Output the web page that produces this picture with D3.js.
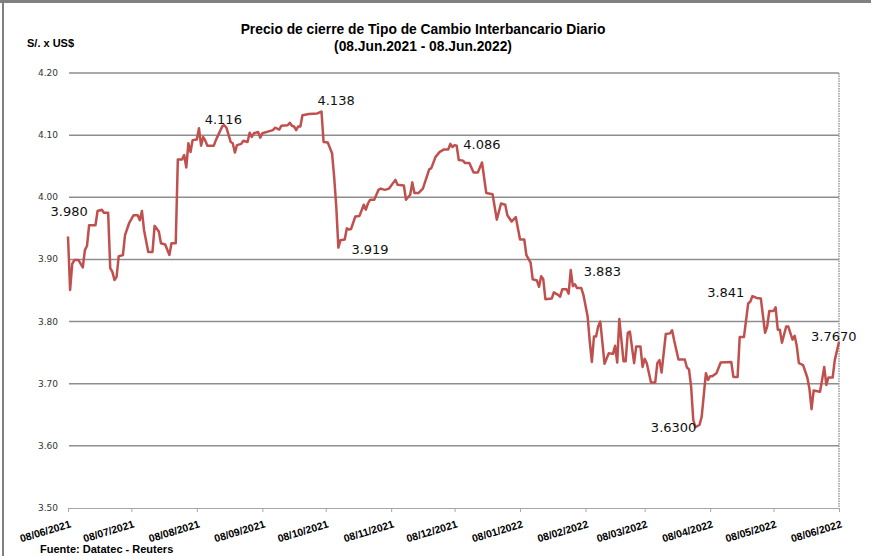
<!DOCTYPE html>
<html>
<head>
<meta charset="utf-8">
<script src="https://cdn.jsdelivr.net/npm/d3@7"></script>
<style>
  body { margin: 0; background: #fff; }
  svg { display: block; }
</style>
</head>
<body>
<div id="chart"></div>
<script>

// data

const DATES = [
  "2021-06-08","2021-06-09","2021-06-10","2021-06-11","2021-06-13","2021-06-15","2021-06-16","2021-06-17","2021-06-18","2021-06-21",
  "2021-06-22","2021-06-24","2021-06-25","2021-06-27","2021-06-28","2021-06-29","2021-06-30","2021-07-01","2021-07-02","2021-07-04",
  "2021-07-05","2021-07-07","2021-07-09","2021-07-11","2021-07-12","2021-07-13","2021-07-14","2021-07-16","2021-07-18","2021-07-19",
  "2021-07-21","2021-07-22","2021-07-24","2021-07-26","2021-07-27","2021-07-29","2021-07-30","2021-08-01","2021-08-02","2021-08-03",
  "2021-08-04","2021-08-05","2021-08-06","2021-08-08","2021-08-09","2021-08-10","2021-08-11","2021-08-12","2021-08-13","2021-08-16",
  "2021-08-17","2021-08-20","2021-08-21","2021-08-22","2021-08-24","2021-08-25","2021-08-26","2021-08-27","2021-08-29","2021-08-30",
  "2021-09-01","2021-09-02","2021-09-03","2021-09-04","2021-09-06","2021-09-07","2021-09-08","2021-09-11","2021-09-13","2021-09-14",
  "2021-09-16","2021-09-17","2021-09-20","2021-09-21","2021-09-22","2021-09-23","2021-09-24","2021-09-25","2021-09-26","2021-09-27",
  "2021-09-30","2021-10-04","2021-10-06","2021-10-07","2021-10-09","2021-10-11","2021-10-12","2021-10-13","2021-10-14","2021-10-15",
  "2021-10-17","2021-10-18","2021-10-19","2021-10-20","2021-10-22","2021-10-24","2021-10-26","2021-10-27","2021-10-28","2021-10-29",
  "2021-10-31","2021-11-02","2021-11-03","2021-11-05","2021-11-07","2021-11-10","2021-11-11","2021-11-14","2021-11-15","2021-11-17",
  "2021-11-18","2021-11-19","2021-11-21","2021-11-23","2021-11-26","2021-11-27","2021-11-29","2021-12-01","2021-12-03","2021-12-05",
  "2021-12-06","2021-12-07","2021-12-08","2021-12-09","2021-12-10","2021-12-12","2021-12-13","2021-12-15","2021-12-17","2021-12-19",
  "2021-12-21","2021-12-23","2021-12-26","2021-12-28","2021-12-30","2022-01-01","2022-01-02","2022-01-04","2022-01-06","2022-01-08",
  "2022-01-10","2022-01-11","2022-01-13","2022-01-14","2022-01-16","2022-01-17","2022-01-18","2022-01-19","2022-01-20","2022-01-23",
  "2022-01-24","2022-01-26","2022-01-27","2022-01-28","2022-01-30","2022-01-31","2022-02-01","2022-02-02","2022-02-03","2022-02-04",
  "2022-02-06","2022-02-07","2022-02-09","2022-02-10","2022-02-11","2022-02-12","2022-02-13","2022-02-14","2022-02-15","2022-02-17",
  "2022-02-19","2022-02-21","2022-02-22","2022-02-23","2022-02-24","2022-02-26","2022-02-27","2022-02-28","2022-03-01","2022-03-03",
  "2022-03-04","2022-03-06","2022-03-07","2022-03-08","2022-03-09","2022-03-11","2022-03-13","2022-03-14","2022-03-15","2022-03-16",
  "2022-03-18","2022-03-20","2022-03-21","2022-03-22","2022-03-24","2022-03-27","2022-03-28","2022-03-29","2022-03-30","2022-03-31",
  "2022-04-01","2022-04-03","2022-04-04","2022-04-06","2022-04-07","2022-04-08","2022-04-09","2022-04-11","2022-04-13","2022-04-18",
  "2022-04-19","2022-04-21","2022-04-22","2022-04-24","2022-04-26","2022-04-27","2022-04-28","2022-04-30","2022-05-02","2022-05-04",
  "2022-05-05","2022-05-06","2022-05-08","2022-05-09","2022-05-10","2022-05-11","2022-05-12","2022-05-14","2022-05-15","2022-05-17",
  "2022-05-18","2022-05-19","2022-05-20","2022-05-22","2022-05-24","2022-05-25","2022-05-26","2022-05-27","2022-05-30","2022-05-31",
  "2022-06-01","2022-06-02","2022-06-03","2022-06-05","2022-06-06","2022-06-08"
];

const RATES = [
  3.937,3.851,3.893,3.899,3.899,3.887,3.915,3.922,3.955,3.955,
  3.978,3.980,3.975,3.975,3.886,3.880,3.867,3.872,3.905,3.907,
  3.939,3.959,3.971,3.971,3.963,3.978,3.947,3.912,3.912,3.954,
  3.945,3.926,3.924,3.907,3.926,3.926,4.061,4.061,4.068,4.048,
  4.087,4.073,4.092,4.093,4.111,4.083,4.097,4.091,4.083,4.083,
  4.092,4.114,4.116,4.112,4.089,4.087,4.072,4.084,4.086,4.091,
  4.089,4.104,4.097,4.103,4.105,4.096,4.103,4.106,4.108,4.112,
  4.109,4.115,4.116,4.120,4.115,4.114,4.108,4.114,4.114,4.132,
  4.134,4.135,4.138,4.089,4.088,4.071,4.033,3.985,3.919,3.931,
  3.932,3.950,3.948,3.949,3.969,3.970,3.988,3.980,3.990,3.996,
  3.996,4.012,4.014,4.012,4.014,4.028,4.020,4.019,3.996,4.004,
  4.024,4.007,4.007,4.014,4.045,4.047,4.065,4.073,4.077,4.077,
  4.086,4.081,4.084,4.083,4.060,4.059,4.055,4.055,4.040,4.040,
  4.056,4.007,4.005,3.964,3.990,3.988,3.971,3.961,3.968,3.932,
  3.932,3.907,3.895,3.868,3.866,3.856,3.873,3.868,3.836,3.837,
  3.847,3.843,3.840,3.852,3.852,3.845,3.883,3.857,3.860,3.854,
  3.854,3.843,3.808,3.768,3.735,3.776,3.776,3.792,3.800,3.732,
  3.749,3.748,3.761,3.734,3.804,3.736,3.736,3.782,3.784,3.733,
  3.760,3.760,3.727,3.740,3.733,3.702,3.702,3.733,3.738,3.718,
  3.780,3.781,3.786,3.769,3.739,3.739,3.726,3.723,3.695,3.642,
  3.630,3.634,3.647,3.717,3.706,3.712,3.712,3.717,3.734,3.735,
  3.711,3.711,3.775,3.775,3.829,3.832,3.841,3.838,3.837,3.782,
  3.792,3.817,3.817,3.823,3.787,3.787,3.766,3.792,3.792,3.771,
  3.777,3.761,3.733,3.730,3.710,3.692,3.659,3.689,3.687,3.706,
  3.727,3.698,3.710,3.710,3.738,3.767
];

const Y_TICKS = [3.50, 3.60, 3.70, 3.80, 3.90, 4.00, 4.10, 4.20];
const X_TICKS = ["2021-06-08","2021-07-08","2021-08-08","2021-09-08","2021-10-08","2021-11-08",
                 "2021-12-08","2022-01-08","2022-02-08","2022-03-08","2022-04-08","2022-05-08","2022-06-08"];

// value labels written on the line
const LABEL_DATES = ["2021-06-24","2021-08-21","2021-10-06","2021-10-14","2021-12-06",
                     "2022-02-01","2022-04-28","2022-04-01","2022-06-08"];
const LABEL_TEXT = ["3.980","4.116","4.138","3.919","4.086","3.883","3.841","3.6300","3.7670"];

// where each label sits relative to its point
const LABEL_POS = [
  {dx: -14, dy: 6, anchor: "end"},
  {dx: -1, dy: -1, anchor: "middle"},
  {dx: -4, dy: -7, anchor: "start"},
  {dx: 13, dy: 6, anchor: "start"},
  {dx: 13, dy: 5, anchor: "start"},
  {dx: 13, dy: 6, anchor: "start"},
  {dx: -8, dy: 1, anchor: "end"},
  {dx: 1, dy: 5, anchor: "end"},
  {dx: -28, dy: -1, anchor: "start"}
];

// frame
const FRAME_WIDTH = 871;
const FRAME_HEIGHT = 556;
const PLOT = {left: 68, right: 839, top: 73, bottom: 508};

const parseDate = d3.timeParse("%Y-%m-%d");

const SVG = d3.select("#chart")
  .append("svg")
    .attr("width", FRAME_WIDTH)
    .attr("height", FRAME_HEIGHT);

const X_SCALE = d3.scaleTime()
  .domain([parseDate(X_TICKS[0]), parseDate(X_TICKS[X_TICKS.length - 1])])
  .range([PLOT.left, PLOT.right]);

const Y_SCALE = d3.scaleLinear()
  .domain([3.5, 4.2])
  .range([PLOT.bottom, PLOT.top]);

// soft glow under grid lines
const defs = SVG.append("defs");
defs.append("filter")
    .attr("id", "glow")
    .attr("x", "-5%").attr("y", "-400%")
    .attr("width", "110%").attr("height", "900%")
  .append("feGaussianBlur")
    .attr("stdDeviation", 3);

// outer border (top and left)
SVG.append("rect")
  .attr("x", 0).attr("y", 0)
  .attr("width", FRAME_WIDTH).attr("height", 3)
  .attr("fill", "#808080");
SVG.append("rect")
  .attr("x", 2).attr("y", 0)
  .attr("width", 2).attr("height", FRAME_HEIGHT)
  .attr("fill", "#808080");

// titles
SVG.append("text")
  .attr("x", 423).attr("y", 34)
  .attr("text-anchor", "middle")
  .attr("font-family", "Liberation Sans, Arial, sans-serif")
  .attr("font-weight", "bold")
  .attr("font-size", "13.8px")
  .attr("fill", "#000")
  .text("Precio de cierre de Tipo de Cambio Interbancario Diario");

SVG.append("text")
  .attr("x", 423).attr("y", 51)
  .attr("text-anchor", "middle")
  .attr("font-family", "Liberation Sans, Arial, sans-serif")
  .attr("font-weight", "bold")
  .attr("font-size", "13.8px")
  .attr("fill", "#000")
  .text("(08.Jun.2021 - 08.Jun.2022)");

SVG.append("text")
  .attr("x", 27).attr("y", 47)
  .attr("font-family", "Liberation Sans, Arial, sans-serif")
  .attr("font-weight", "bold")
  .attr("font-size", "11px")
  .attr("fill", "#000")
  .text("S/. x US$");

// grid lines with glow
const gridVals = Y_TICKS.filter((v) => v > 3.5);

SVG.append("g")
  .selectAll("line")
  .data(gridVals)
  .enter()
  .append("line")
    .attr("x1", PLOT.left).attr("x2", PLOT.right + 10)
    .attr("y1", (d) => Y_SCALE(d) + 2)
    .attr("y2", (d) => Y_SCALE(d) + 2)
    .attr("stroke", "#cdd6ee")
    .attr("stroke-width", 9)
    .attr("filter", "url(#glow)");

SVG.append("g")
  .selectAll("line")
  .data(gridVals)
  .enter()
  .append("line")
    .attr("x1", PLOT.left + 1).attr("x2", PLOT.right)
    .attr("y1", (d) => Y_SCALE(d))
    .attr("y2", (d) => Y_SCALE(d))
    .attr("stroke", "#8e8e8e")
    .attr("stroke-width", 1.5);

// right dotted edge
SVG.append("line")
  .attr("x1", PLOT.right).attr("x2", PLOT.right)
  .attr("y1", PLOT.top).attr("y2", PLOT.bottom)
  .attr("stroke", "#9a9a9a")
  .attr("stroke-width", 1.5)
  .attr("stroke-dasharray", "1.5,1");

// y tick labels
SVG.append("g")
  .selectAll("text")
  .data(Y_TICKS)
  .enter()
  .append("text")
    .attr("x", 58)
    .attr("y", (d) => Y_SCALE(d) + 3)
    .attr("text-anchor", "end")
    .attr("font-family", "DejaVu Sans, Verdana, sans-serif")
    .attr("font-size", "9px")
    .attr("fill", "#333")
    .text((d) => d.toFixed(2));

// x axis
const xAxis = SVG.append("g")
  .attr("transform", "translate(0," + PLOT.bottom + ")")
  .call(d3.axisBottom(X_SCALE)
    .tickValues(X_TICKS.map(parseDate))
    .tickFormat(d3.timeFormat("%d/%m/%Y"))
    .tickSize(4)
    .tickSizeOuter(0));

xAxis.select(".domain")
  .attr("stroke", "#a6a6a6")
  .attr("stroke-width", 1.2);
xAxis.selectAll(".tick line")
  .attr("stroke", "#a6a6a6");
xAxis.selectAll(".tick text")
  .attr("font-family", "Liberation Sans, Arial, sans-serif")
  .attr("font-weight", "bold")
  .attr("font-size", "10.5px")
  .attr("fill", "#000")
  .attr("text-anchor", "end")
  .attr("y", 0)
  .attr("dy", 0)
  .attr("transform", "translate(3,19) rotate(-17)");

// the rate line
const series = DATES.map((d, i) => ({date: parseDate(d), value: RATES[i]}));

const line = d3.line()
  .x((d) => X_SCALE(d.date))
  .y((d) => Y_SCALE(d.value));

SVG.append("path")
  .datum(series)
  .attr("d", line)
  .attr("fill", "none")
  .attr("stroke", "#c0504d")
  .attr("stroke-width", 2.5)
  .attr("stroke-linejoin", "round");

// value labels
SVG.append("g")
  .selectAll("text")
  .data(LABEL_TEXT)
  .enter()
  .append("text")
    .attr("x", (d, i) => X_SCALE(parseDate(LABEL_DATES[i])) + LABEL_POS[i].dx)
    .attr("y", (d, i) => Y_SCALE(RATES[DATES.indexOf(LABEL_DATES[i])]) + LABEL_POS[i].dy)
    .attr("text-anchor", (d, i) => LABEL_POS[i].anchor)
    .attr("font-family", "DejaVu Sans, Verdana, sans-serif")
    .attr("font-size", "13px")
    .attr("fill", "#111")
    .text((d) => d);

// source
SVG.append("text")
  .attr("x", 40).attr("y", 553)
  .attr("font-family", "Liberation Sans, Arial, sans-serif")
  .attr("font-weight", "bold")
  .attr("font-size", "11px")
  .attr("fill", "#000")
  .text("Fuente: Datatec - Reuters");

</script>
</body>
</html>
